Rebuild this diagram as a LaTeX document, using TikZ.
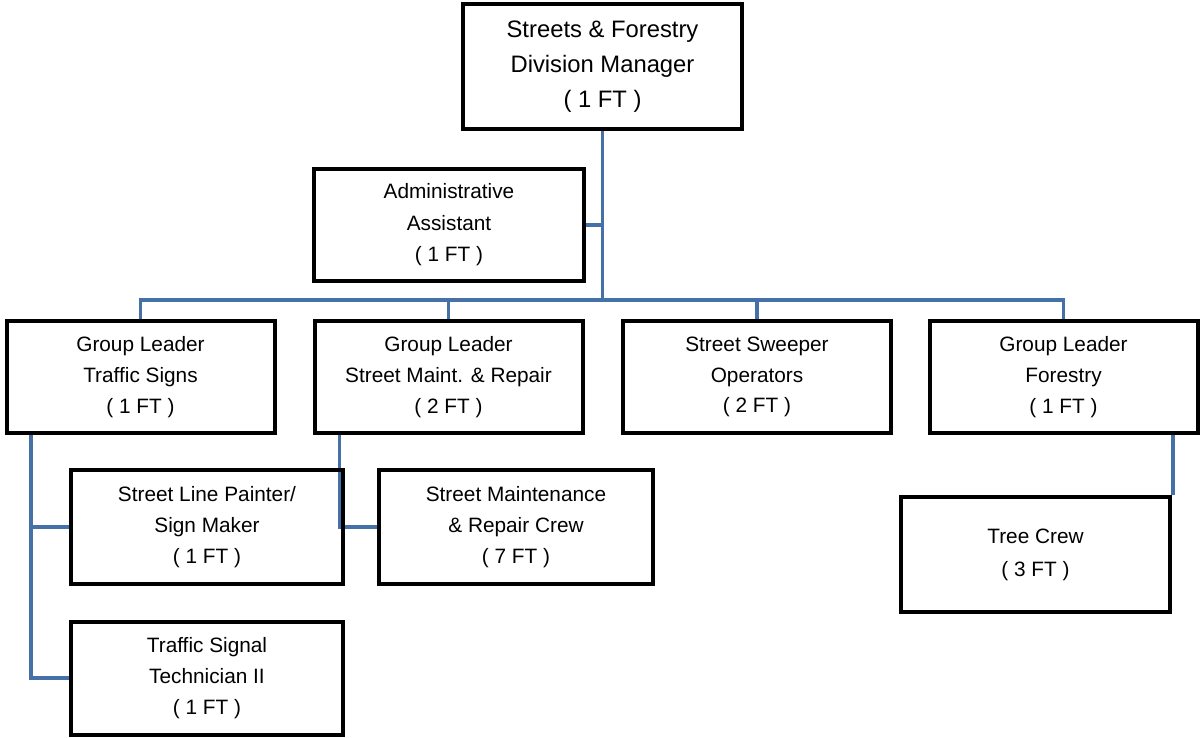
\documentclass[tikz,border=0pt]{standalone}
\usepackage{fontspec}
\setmainfont{Liberation Sans}
\usetikzlibrary{backgrounds}
\definecolor{linkblue}{RGB}{70,112,168}

\begin{document}
\begin{tikzpicture}[x=1pt,y=-1pt,
							every node/.style={draw,line width=4pt,align=center,inner sep=0pt,
								font=\fontsize{20.8}{30.8}\selectfont},
							unit/.style={minimum width=268pt,minimum height=112pt},
							sub/.style={minimum width=272pt,minimum height=114pt},
							link/.style={draw=linkblue,line width=3.5pt}]
			\useasboundingbox (0,0) rectangle (1201,738);
			\node[minimum width=279pt,minimum height=125pt,font=\fontsize{23.8}{35}\selectfont] (mgr) at (602.5,66.5)
				{Streets \& Forestry\\Division Manager\\( 1 FT )};
			\node[minimum width=270pt,minimum height=112pt,font=\fontsize{20.8}{31.5}\selectfont] (admin) at (449,225)
				{Administrative\\Assistant\\( 1 FT )};
			\node[unit] (gls) at (140.5,377) {Group Leader\\Traffic Signs\\( 1 FT )};
			\node[unit] (glm) at (448.5,377) {Group Leader\\Street Maint. \& Repair\\( 2 FT )};
			\node[unit] (sweep) at (757,377) {Street Sweeper\\Operators\\( 2 FT )};
			\node[unit] (glf) at (1063.5,377) {Group Leader\\Forestry\\( 1 FT )};
			\node[sub] (paint) at (207,527) {Street Line Painter/\\Sign Maker\\( 1 FT )};
			\node[sub,minimum width=274pt] (crew) at (516,527) {Street Maintenance\\\& Repair Crew\\( 7 FT )};
			\node[sub,minimum height=113pt] (sig) at (207,678) {Traffic Signal\\Technician II\\( 1 FT )};
			\node[minimum width=269pt,minimum height=115pt,font=\fontsize{20.8}{33}\selectfont] (tree) at (1035.5,554.5)
				{Tree Crew\\( 3 FT )};
			\begin{scope}[on background layer]
				\coordinate (bus) at (602.5,300);
				\draw[link] (mgr.south) -- (bus);
				\draw[link] (admin.east) -- (admin.east -| mgr.south);
				\draw[link] (bus) -| (gls.north);
				\draw[link] (bus) -| (glm.north);
				\draw[link] (bus) -| (sweep.north);
				\draw[link] (bus) -| (glf.north);
				\draw[link] ([xshift=26.5pt]gls.south west) coordinate (lft) |- (sig.west);
				\draw[link] (lft |- paint.west) -- (paint.west);
				\draw[link] ([xshift=27pt]glm.south west) |- (crew.west);
				\draw[link] ([xshift=-26.5pt]glf.south east) coordinate (rgt) -- (rgt |- tree.north);
			\end{scope}
		\end{tikzpicture}
\end{document}
